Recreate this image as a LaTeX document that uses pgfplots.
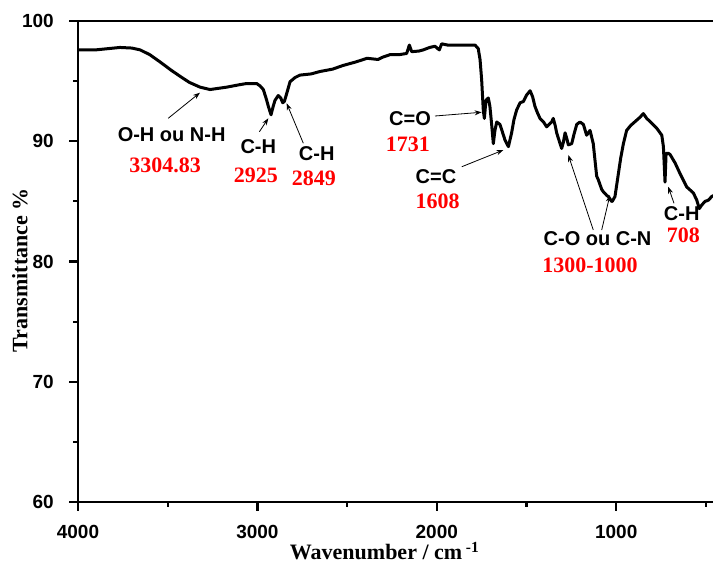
\documentclass[border=0pt]{standalone}
\usepackage{pgfplots}
\pgfplotsset{compat=1.18}
\usepackage{fontspec}
\setmainfont{Liberation Serif}
\setsansfont{Liberation Sans}
\usetikzlibrary{arrows.meta}
\begin{document}
\begin{tikzpicture}
\useasboundingbox (-78pt,-63pt) rectangle (635pt,502pt);
\begin{axis}[
 scale only axis, width=638.7pt, height=481pt, clip=false,
 x dir=reverse, xmin=440, xmax=4000, ymin=60, ymax=100,
 xtick={1000,2000,3000,4000}, minor xtick={500,1500,2500,3500},
 ytick={60,70,80,90,100}, minor ytick={65,75,85,95},
 tick align=outside, tick pos=left,
 major tick length=9pt, minor tick length=5pt,
 every tick/.append style={black},
 axis line style={line width=2.8pt},
 /pgf/number format/assume math mode=true,
 /pgf/number format/1000 sep={},
 ticklabel style={font=\sffamily\bfseries\fontsize{19}{22}\selectfont, inner sep=0pt},
 xticklabel style={anchor=center, yshift=-21pt},
 yticklabel style={anchor=east, xshift=-15pt},
 xlabel={Wavenumber / cm\,\textsuperscript{-1}},
 ylabel={Transmittance \%},
 label style={font=\rmfamily\bfseries\fontsize{22}{24}\selectfont},
 xlabel style={at={(axis description cs:0.48,0)}, anchor=center, yshift=-49pt},
 ylabel style={at={(axis description cs:-0.0908,0.482)}, anchor=center},
]
\addplot[black, line width=3pt, line join=round, no marks] coordinates {
(4000,97.6) (3900,97.6) (3766,97.8) (3700,97.75) (3654,97.6) (3600,97.2)
(3543,96.6) (3480,95.9) (3431,95.4) (3380,94.9) (3320,94.5) (3264,94.3)
(3171,94.5) (3100,94.7) (3060,94.8) (3004,94.8) (2985,94.6) (2967,94.3)
(2950,93.5) (2939,92.9) (2924,92.2) (2912,92.9) (2902,93.4) (2884,93.8)
(2870,93.6) (2859,93.2) (2850,93.3) (2840,93.8) (2818,94.95) (2790,95.3)
(2763,95.5) (2700,95.6) (2651,95.8) (2580,96.0) (2523,96.3) (2450,96.6)
(2389,96.9) (2328,96.8) (2300,97.0) (2261,97.2) (2210,97.2) (2168,97.3)
(2153,98.0) (2140,97.45) (2100,97.5) (2075,97.6) (2040,97.8) (2010,97.9)
(1995,97.7) (1986,97.6) (1973,98.1) (1940,98.0) (1889,98.0) (1840,98.0)
(1787,98.0) (1769,97.7) (1759,96.8) (1750,95.1) (1741,92.6) (1735,91.9)
(1726,93.4) (1713,93.6) (1704,92.9) (1695,91.5) (1685,89.8) (1676,90.9)
(1666,91.6) (1648,91.4) (1635,90.8) (1620,90.1) (1601,89.55) (1583,90.7)
(1570,91.8) (1555,92.6) (1536,93.2) (1518,93.3) (1499,93.85) (1480,94.2)
(1466,93.7) (1453,92.9) (1440,92.4) (1425,91.9) (1405,91.6) (1388,91.2)
(1360,91.6) (1351,91.9) (1340,91.3) (1332,90.7) (1315,89.9) (1304,89.4)
(1295,89.9) (1285,90.7) (1275,90.2) (1267,89.7) (1248,89.8) (1235,90.6)
(1220,91.4) (1202,91.6) (1183,91.4) (1165,90.5) (1146,90.9) (1128,89.8)
(1109,87.1) (1100,86.8) (1081,86.0) (1072,85.8) (1053,85.5) (1044,85.4)
(1025,85.0) (1022,85.0) (1007,85.4) (988,87.3) (975,88.6) (960,89.8)
(942,90.9) (920,91.3) (905,91.5) (867,92.0) (849,92.3) (830,91.9)
(802,91.5) (775,91.1) (746,90.5) (737,89.55) (728,86.6) (722,89.0)
(710,89.0) (700,88.9) (672,88.2) (644,87.3) (607,86.2) (570,85.7)
(551,85.1) (537,84.4) (523,84.7) (505,85.0) (486,85.1) (468,85.4) (455,85.5)
};
% tick marks (drawn thick)
\tikzset{tk/.style={line width=2.2pt, black}}
\draw[tk] (axis cs:4000,60) -- ++(0pt,-9pt);
\draw[tk] (axis cs:3000,60) -- ++(0pt,-9pt);
\draw[tk] (axis cs:2000,60) -- ++(0pt,-9pt);
\draw[tk] (axis cs:1000,60) -- ++(0pt,-9pt);
\draw[tk] (axis cs:3500,60) -- ++(0pt,-5pt);
\draw[tk] (axis cs:2500,60) -- ++(0pt,-5pt);
\draw[tk] (axis cs:1500,60) -- ++(0pt,-5pt);
\draw[tk] (axis cs:500,60) -- ++(0pt,-5pt);
\draw[tk] (axis cs:4000,60) -- ++(-9pt,0pt);
\draw[tk] (axis cs:4000,70) -- ++(-9pt,0pt);
\draw[tk] (axis cs:4000,80) -- ++(-9pt,0pt);
\draw[tk] (axis cs:4000,90) -- ++(-9pt,0pt);
\draw[tk] (axis cs:4000,100) -- ++(-9pt,0pt);
\draw[tk] (axis cs:4000,65) -- ++(-5pt,0pt);
\draw[tk] (axis cs:4000,75) -- ++(-5pt,0pt);
\draw[tk] (axis cs:4000,85) -- ++(-5pt,0pt);
\draw[tk] (axis cs:4000,95) -- ++(-5pt,0pt);
% annotations
\tikzset{lab/.style={font=\sffamily\bfseries\fontsize{20}{22}\selectfont, inner sep=0pt},
 num/.style={font=\rmfamily\bfseries\fontsize{22}{24}\selectfont, text=red, inner sep=0pt},
 arr/.style={-{Stealth[length=7pt,width=5pt]}, line width=0.8pt}}
\node[lab] at (axis cs:3478,90.52) {O-H ou N-H};
\node[num] at (axis cs:3515,88.02) {3304.83};
\draw[arr] (axis cs:3497,91.91) -- (axis cs:3320,94.04);
\node[lab] at (axis cs:2995,89.55) {C-H};
\node[num] at (axis cs:3009,87.19) {2925};
\draw[arr] (axis cs:2989,90.79) -- (axis cs:2939,91.91);
\node[lab] at (axis cs:2669.5,88.94) {C-H};
\node[num] at (axis cs:2685,86.92) {2849};
\draw[arr] (axis cs:2744,89.83) -- (axis cs:2837,93.16);
\node[lab] at (axis cs:2149,91.91) {C=O};
\node[num] at (axis cs:2161,89.77) {1731};
\draw[arr] (axis cs:2010,92.10) -- (axis cs:1750,92.41);
\node[lab] at (axis cs:2004.5,87.05) {C=C};
\node[num] at (axis cs:1996,85.03) {1608};
\draw[arr] (axis cs:1861,87.88) -- (axis cs:1629,89.27);
\node[lab] at (axis cs:1104,81.93) {C-O ou C-N};
\node[num] at (axis cs:1146,79.71) {1300-1000};
\draw[arr] (axis cs:1128,82.62) -- (axis cs:1267,88.86);
\draw[arr] (axis cs:1081,82.62) -- (axis cs:1035,85.53);
\node[lab] at (axis cs:635,84.01) {C-H};
\node[num] at (axis cs:626,82.20) {708};
\draw[arr] (axis cs:678,84.84) -- (axis cs:710,86.22);
\end{axis}
\end{tikzpicture}
\end{document}
